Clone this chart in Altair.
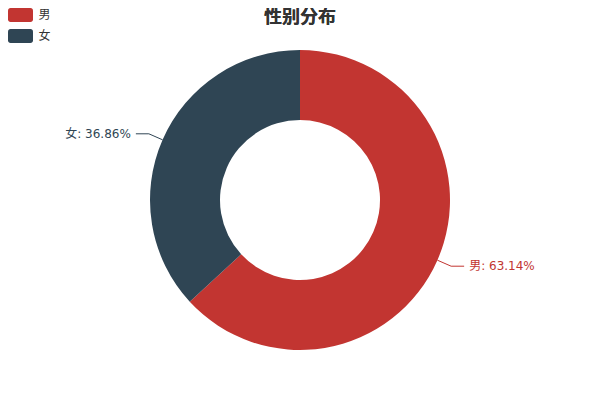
import altair as alt
import pandas as pd

# data
sexes = ["男", "女"]
shares = [63.14, 36.86]
colors = ["#c23531", "#2f4554"]
title_text = "性别分布"

# layout: 24px padding round a 536x336 view keeps the donut centred on the page
PAD = 24
W, H = 536, 336
CX, CY = W / 2, H / 2
R_OUT, R_IN = 150, 80
R_LINE = 165
SEG = 13
FONT = "DejaVu Sans, Noto Sans CJK SC, sans-serif"

# rounded rect swatch, drawn in symbol units (size 400 -> 10px per unit)
SWATCH = (
    "M-1.0,-0.7 L1.0,-0.7 A0.25,0.25 0 0 1 1.25,-0.45 L1.25,0.45 "
    "A0.25,0.25 0 0 1 1.0,0.7 L-1.0,0.7 A0.25,0.25 0 0 1 -1.25,0.45 "
    "L-1.25,-0.45 A0.25,0.25 0 0 1 -1.0,-0.7 Z"
)

df = pd.DataFrame({"sex": sexes, "share": shares, "idx": list(range(len(sexes)))})

color_scale = alt.Scale(domain=sexes, range=colors)

base = alt.Chart(df)

arc = base.mark_arc(innerRadius=R_IN, outerRadius=R_OUT).encode(
    theta=alt.Theta("share:Q", stack=True),
    order=alt.Order("idx:Q"),
    color=alt.Color(
        "sex:N",
        scale=color_scale,
        sort=sexes,
        legend=alt.Legend(
            title=None,
            orient="none",
            legendX=-21.5,
            legendY=-27,
            padding=0,
            symbolType=SWATCH,
            symbolSize=400,
            symbolStrokeWidth=0,
            symbolOpacity=1,
            rowPadding=4,
            labelOffset=8,
            labelFontSize=12,
            labelColor="#333",
            labelFont=FONT,
        ),
    ),
)

geo = (
    base.transform_joinaggregate(total="sum(share)")
    .transform_window(cum="sum(share)", sort=[alt.SortField("idx")])
    .transform_calculate(
        mid="2*PI*(datum.cum - datum.share/2)/datum.total",
    )
    .transform_calculate(
        side="sin(datum.mid) >= 0 ? 1 : -1",
        x1=f"{CX} + {R_OUT}*sin(datum.mid)",
        y1=f"{CY} - {R_OUT}*cos(datum.mid)",
        x2=f"{CX} + {R_LINE}*sin(datum.mid)",
        y2=f"{CY} - {R_LINE}*cos(datum.mid)",
        label="datum.sex + ': ' + format(datum.share, '.2f') + '%'",
    )
    .transform_calculate(x3=f"datum.x2 + datum.side*{SEG}")
)

line_color = alt.Color("sex:N", scale=color_scale, legend=None)

seg1 = geo.mark_rule(strokeWidth=1).encode(
    x=alt.X("x1:Q", scale=None, axis=None),
    y=alt.Y("y1:Q", scale=None, axis=None),
    x2="x2:Q",
    y2="y2:Q",
    color=line_color,
)
seg2 = geo.mark_rule(strokeWidth=1).encode(
    x=alt.X("x2:Q", scale=None, axis=None),
    y=alt.Y("y2:Q", scale=None, axis=None),
    x2="x3:Q",
    y2="y2:Q",
    color=line_color,
)

text_right = geo.transform_filter("datum.side > 0").mark_text(
    align="left", baseline="middle", dx=5, fontSize=12, font=FONT
).encode(
    x=alt.X("x3:Q", scale=None, axis=None),
    y=alt.Y("y2:Q", scale=None, axis=None),
    text="label:N",
    color=line_color,
)
text_left = geo.transform_filter("datum.side < 0").mark_text(
    align="right", baseline="middle", dx=-5, fontSize=12, font=FONT
).encode(
    x=alt.X("x3:Q", scale=None, axis=None),
    y=alt.Y("y2:Q", scale=None, axis=None),
    text="label:N",
    color=line_color,
)

# chart title, drawn as text in the top padding
title = base.mark_text(
    text=title_text,
    fontSize=18,
    fontWeight="bold",
    color="#333",
    font=FONT,
    align="center",
    baseline="middle",
).encode(x=alt.value(CX), y=alt.value(-14.5))

chart = (
    alt.layer(arc, seg1, seg2, text_right, text_left, title)
    .properties(
        width=W,
        height=H,
        padding=PAD,
        autosize=alt.AutoSizeParams(type="none"),
    )
    .configure_view(stroke=None)
)

chart.save("out.html", embed_options={"renderer": "svg", "actions": False})
